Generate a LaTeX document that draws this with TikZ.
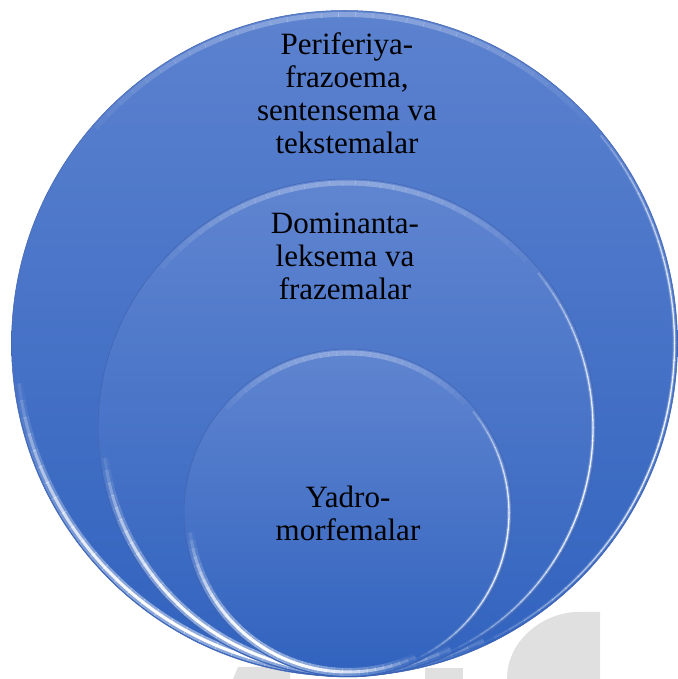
\documentclass[tikz,border=0pt]{standalone}
\usepackage{fontspec}
\setmainfont{Liberation Serif}
\usetikzlibrary{calc}
\definecolor{bluetop}{RGB}{92,130,207}
\definecolor{bluebot}{RGB}{48,98,190}
\definecolor{innertop}{RGB}{96,133,208}
\definecolor{rimline}{RGB}{66,100,176}
\definecolor{wm}{RGB}{224,224,224}
\tikzset{
  disc/.style={circle, inner sep=0pt, top color=bluetop, bottom color=bluebot, draw=rimline, line width=0.5pt},
  innerdisc/.style={disc, top color=innertop},
  lbl/.style={align=center, font=\fontsize{31}{33}\selectfont, text=black, inner sep=0pt},
  wmark/.style={fill=wm, draw=none},
}
% glossy rim highlights: #1 centre name, #2 radius (number, pt)
\newcommand\glossrim[2]{%
  \pgfmathsetmacro\rrt{#2-4}%
  \pgfmathsetmacro\rrl{#2-5}%
  \pgfmathsetmacro\rrr{#2-3}%
  \foreach \a in {40,43,...,137}{%
    \pgfmathsetmacro\op{0.28*max(0,cos((\a-90)*1.75))}%
    \draw[white, opacity=\op, line width=5pt] (#1) ++(\a:\rrt pt) arc[start angle=\a, end angle=\a+3.1, radius=\rrt pt];
  }%
  \foreach \a in {175,178,...,292}{%
    \pgfmathsetmacro\op{max(0,cos((\a-240)*1.6))}%
    \pgfmathsetmacro\opw{0.45*\op}%
    \pgfmathsetmacro\opc{\op}%
    \draw[white, opacity=\opw, line width=8pt] (#1) ++(\a:\rrl pt) arc[start angle=\a, end angle=\a+3.1, radius=\rrl pt];
    \draw[white, opacity=\opc, line width=3pt] (#1) ++(\a:\rrl pt) arc[start angle=\a, end angle=\a+3.1, radius=\rrl pt];
  }%
  \foreach \a in {-66,-63,...,36}{%
    \pgfmathsetmacro\op{max(0,cos((\a+12)*1.6))}%
    \pgfmathsetmacro\opw{0.25*\op}%
    \pgfmathsetmacro\opc{0.9*\op}%
    \draw[white, opacity=\opw, line width=3.5pt] (#1) ++(\a:\rrr pt) arc[start angle=\a, end angle=\a+3.1, radius=\rrr pt];
    \draw[white, opacity=\opc, line width=1.3pt] (#1) ++(\a:\rrr pt) arc[start angle=\a, end angle=\a+3.1, radius=\rrr pt];
  }%
}
\begin{document}
\begin{tikzpicture}
\useasboundingbox (0,0) rectangle (677pt,679pt);
\fill[white] (0,0) rectangle (677pt,679pt);
% light grey watermark pieces behind the circles
\path[wmark] (600pt,67pt) -- (578pt,67pt) .. controls (545pt,67pt) and (507pt,40pt) .. (507pt,0pt) -- (600pt,0pt) -- cycle;
\path[wmark] (425pt,11pt) rectangle (463pt,0pt);
\path[wmark] (238pt,12pt) -- (290pt,12pt) -- (290pt,0pt) -- (233pt,0pt) -- cycle;
% circles
\node[disc, minimum size=666pt] (outer) at (344.5pt,335.5pt) {};
\glossrim{outer.center}{333}
\node[innerdisc, minimum size=498pt] (middle) at (347pt,251pt) {};
\glossrim{middle.center}{249}
\node[innerdisc, minimum size=328pt] (inner) at (348pt,166pt) {};
\glossrim{inner.center}{164}
% labels
\node[lbl] (tPer) at (347pt,585.5pt) {Periferiya-\\frazoema,\\sentensema va\\tekstemalar};
\node[lbl] (tDom) at (345pt,423pt) {Dominanta-\\leksema va\\frazemalar};
\node[lbl] (tYad) at (348pt,165.5pt) {Yadro-\\morfemalar};
\end{tikzpicture}
\end{document}
